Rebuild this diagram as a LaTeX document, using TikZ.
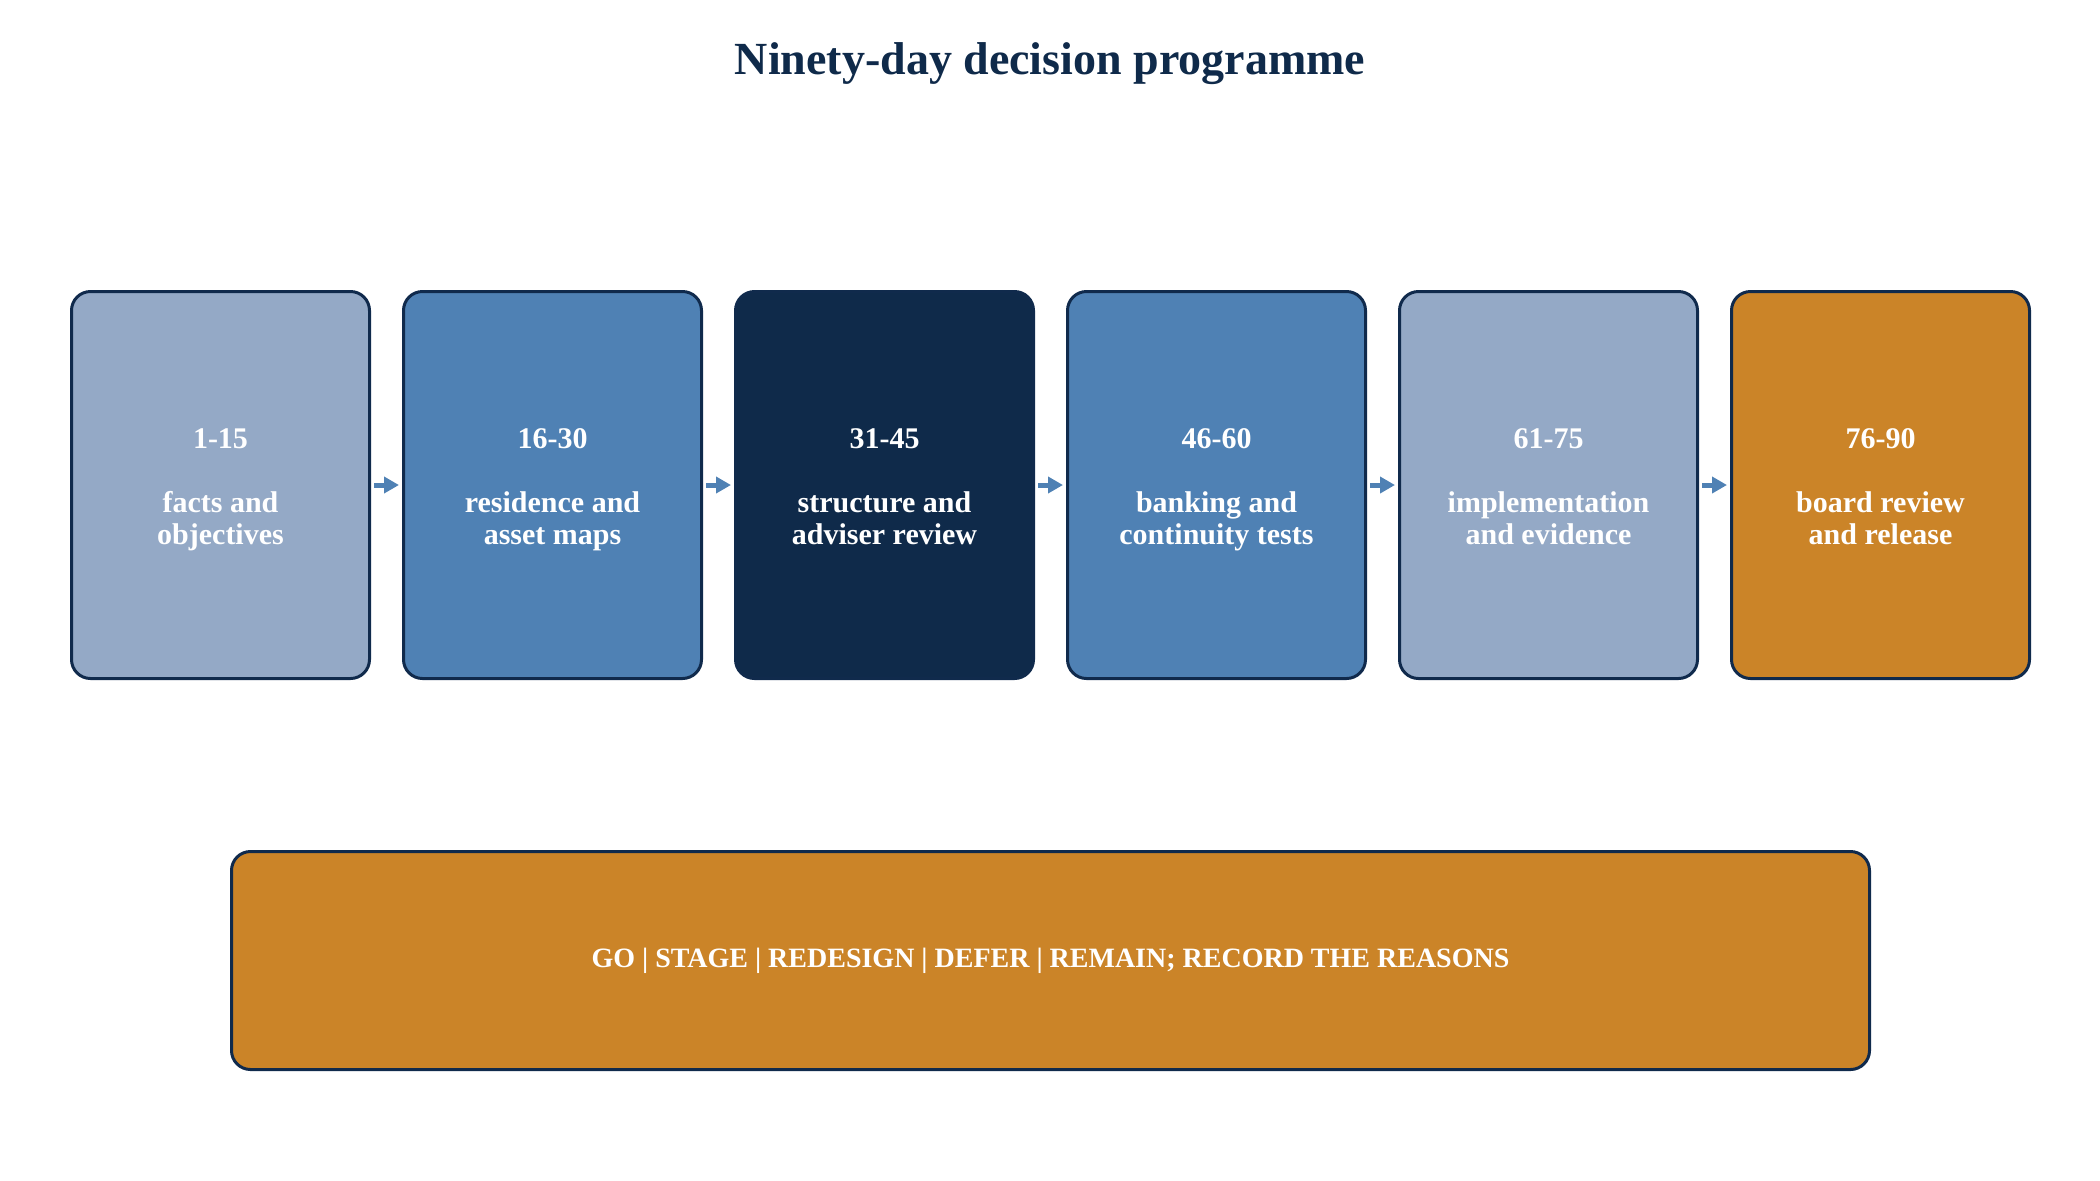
\documentclass[tikz,border=0pt]{standalone}
\usepackage{fontspec}
\setmainfont{Liberation Serif}
\usetikzlibrary{arrows.meta}
\definecolor{navy}{HTML}{102A4C}
\definecolor{pale}{HTML}{94A9C6}
\definecolor{mid}{HTML}{4F81B4}
\definecolor{deep}{HTML}{0F2A4A}
\definecolor{amber}{HTML}{CB8428}
\newcommand{\lift}{\rule{0pt}{15.8pt}}
\begin{document}
\begin{tikzpicture}[x=0.5pt,y=-0.5pt,
  phase/.style={draw=navy, line width=1.5pt, rounded corners=9.5pt,
    minimum width=149pt, minimum height=193.5pt, inner sep=0pt,
    text=white, align=center,
    font=\fontsize{15}{16}\selectfont\bfseries},
  link/.style={draw=mid, line width=2.5pt,
    -{Triangle[length=7.5pt,width=8pt]},
    shorten <=1.5pt, shorten >=1.5pt}]
\useasboundingbox (0,0) rectangle (2100,1180);
\node[font=\fontsize{23}{27}\selectfont\bfseries, text=deep, anchor=base]
  (title) at (1050,74) {Ninety-day decision programme};
\node[phase, fill=pale] (p1) at (220.5,485)
  {\lift 1-15\\[16pt]facts and\\objectives\strut};
\node[phase, fill=mid] (p2) at (552.5,485)
  {\lift 16-30\\[16pt]residence and\\asset maps\strut};
\node[phase, fill=deep] (p3) at (884.5,485)
  {\lift 31-45\\[16pt]structure and\\adviser review\strut};
\node[phase, fill=mid] (p4) at (1216.5,485)
  {\lift 46-60\\[16pt]banking and\\continuity tests\strut};
\node[phase, fill=pale] (p5) at (1548.5,485)
  {\lift 61-75\\[16pt]implementation\\and evidence\strut};
\node[phase, fill=amber] (p6) at (1880.5,485)
  {\lift 76-90\\[16pt]board review\\and release\strut};
\draw[link] (p1) -- (p2);
\draw[link] (p2) -- (p3);
\draw[link] (p3) -- (p4);
\draw[link] (p4) -- (p5);
\draw[link] (p5) -- (p6);
\node[phase, fill=amber, minimum width=819pt, minimum height=109pt,
  font=\fontsize{14}{16}\selectfont\bfseries]
  (decision) at (1050.5,960.5)
  {GO | STAGE | REDESIGN | DEFER | REMAIN; RECORD THE REASONS};
\end{tikzpicture}
\end{document}
